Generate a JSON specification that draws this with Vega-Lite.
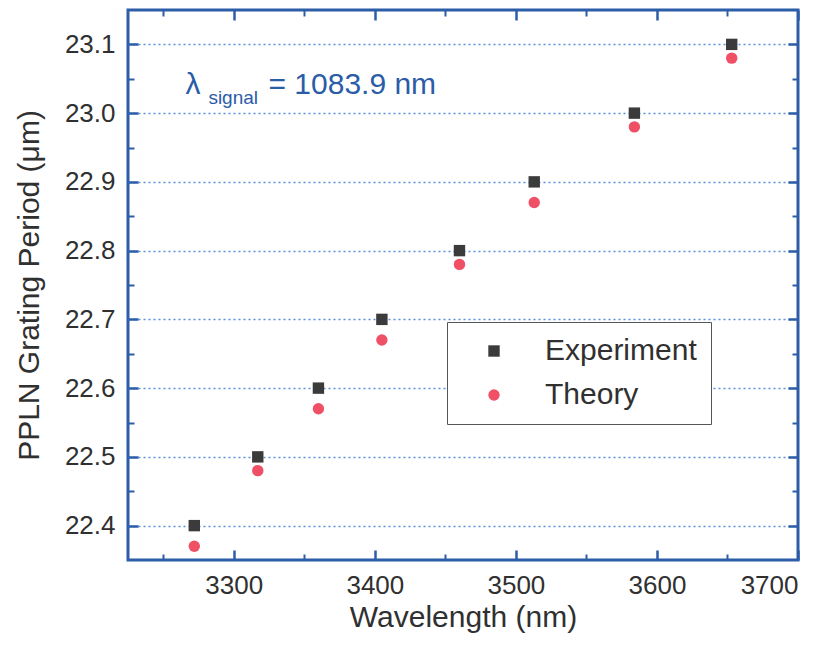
{
  "$schema": "https://vega.github.io/schema/vega-lite/v6.json",
  "width": 670,
  "height": 550,
  "autosize": {"type": "none"},
  "padding": {"left": 128, "top": 10, "right": 35, "bottom": 92},
  "background": "white",
  "config": {
    "view": {"stroke": "#2c5da8", "strokeWidth": 3},
    "font": "Liberation Sans",
    "axis": {
      "domain": false,
      "grid": false,
      "labelFont": "Liberation Sans",
      "titleFont": "Liberation Sans",
      "labelColor": "#303030",
      "titleColor": "#303030",
      "titleFontWeight": "normal",
      "tickColor": "#2c5da8",
      "labelFontSize": 26,
      "titleFontSize": 30
    }
  },
  "resolve": {"axis": {"x": "independent", "y": "independent"}},
  "layer": [
    {
      "data": {"values": [
        {"series": "Experiment", "wavelength": 3272, "period": 22.4},
        {"series": "Experiment", "wavelength": 3317, "period": 22.5},
        {"series": "Experiment", "wavelength": 3360, "period": 22.6},
        {"series": "Experiment", "wavelength": 3405, "period": 22.7},
        {"series": "Experiment", "wavelength": 3460, "period": 22.8},
        {"series": "Experiment", "wavelength": 3513, "period": 22.9},
        {"series": "Experiment", "wavelength": 3584, "period": 23.0},
        {"series": "Experiment", "wavelength": 3653, "period": 23.1},
        {"series": "Theory", "wavelength": 3272, "period": 22.37},
        {"series": "Theory", "wavelength": 3317, "period": 22.48},
        {"series": "Theory", "wavelength": 3360, "period": 22.57},
        {"series": "Theory", "wavelength": 3405, "period": 22.67},
        {"series": "Theory", "wavelength": 3460, "period": 22.78},
        {"series": "Theory", "wavelength": 3513, "period": 22.87},
        {"series": "Theory", "wavelength": 3584, "period": 22.98},
        {"series": "Theory", "wavelength": 3653, "period": 23.08}
      ]},
      "mark": {"type": "point", "filled": true, "opacity": 1, "size": 130, "strokeWidth": 0},
      "encoding": {
        "x": {
          "field": "wavelength", "type": "quantitative",
          "scale": {"domain": [3225, 3700], "nice": false, "zero": false},
          "axis": {"orient": "bottom", "values": [3300, 3400, 3500, 3600, 3700], "format": "d",
                   "tickSize": -10, "tickWidth": 2.5, "labelPadding": 22,
                   "title": "Wavelength (nm)", "titlePadding": 4}
        },
        "y": {
          "field": "period", "type": "quantitative",
          "scale": {"domain": [22.35, 23.15], "nice": false, "zero": false},
          "axis": {"orient": "left", "values": [22.4, 22.5, 22.6, 22.7, 22.8, 22.9, 23.0, 23.1], "format": ".1f",
                   "tickSize": -10, "tickWidth": 2.5, "labelPadding": 23,
                   "grid": true, "gridColor": "#5b8fdc", "gridDash": [2, 3], "gridWidth": 1.5,
                   "title": "PPLN Grating Period (μm)", "titlePadding": 20}
        },
        "color": {
          "field": "series", "type": "nominal",
          "scale": {"domain": ["Experiment", "Theory"], "range": ["#3b3b3b", "#ef5066"]},
          "legend": {"title": null, "orient": "none", "legendX": 319, "legendY": 312, "padding": 14,
                     "fillColor": "white", "strokeColor": "#555555",
                     "labelFontSize": 30, "labelLimit": 400, "labelColor": "#303030", "labelFont": "Liberation Sans",
                     "labelExpr": "datum.label + '\u00a0\u00a0'",
                     "symbolSize": 130, "symbolOffset": 18, "labelOffset": 36, "rowPadding": 14, "symbolStrokeWidth": 0,
                     "encode": {"legend": {"update": {"strokeWidth": {"value": 1.5}}}}}
        },
        "shape": {
          "field": "series", "type": "nominal",
          "scale": {"domain": ["Experiment", "Theory"], "range": ["square", "circle"]},
          "legend": {"title": null, "orient": "none", "legendX": 319, "legendY": 312, "padding": 14,
                     "fillColor": "white", "strokeColor": "#555555",
                     "labelFontSize": 30, "labelLimit": 400, "labelColor": "#303030", "labelFont": "Liberation Sans",
                     "labelExpr": "datum.label + '\u00a0\u00a0'",
                     "symbolSize": 130, "symbolOffset": 18, "labelOffset": 36, "rowPadding": 14, "symbolStrokeWidth": 0,
                     "encode": {"legend": {"update": {"strokeWidth": {"value": 1.5}}}}}
        }
      }
    },
    {
      "data": {"values": [{"wavelength": 3265.7, "period": 23.028, "label": "λ"}]},
      "mark": {"type": "text", "align": "left", "baseline": "alphabetic", "fontSize": 30, "color": "#2b5ca8", "font": "Liberation Sans"},
      "encoding": {
        "x": {"field": "wavelength", "type": "quantitative",
              "axis": {"orient": "bottom", "values": [3250, 3350, 3450, 3550, 3650], "tickSize": -6, "tickWidth": 2, "labels": false, "title": null}},
        "y": {"field": "period", "type": "quantitative",
              "axis": {"orient": "left", "values": [22.45, 22.55, 22.65, 22.75, 22.85, 22.95, 23.05], "tickSize": -6, "tickWidth": 2, "labels": false, "title": null}},
        "text": {"field": "label"}
      }
    },
    {
      "data": {"values": [{"wavelength": 3282, "period": 23.0135, "label": "signal"}]},
      "mark": {"type": "text", "align": "left", "baseline": "alphabetic", "fontSize": 19, "color": "#2b5ca8", "font": "Liberation Sans"},
      "encoding": {
        "x": {"field": "wavelength", "type": "quantitative",
              "axis": {"orient": "top", "values": [3300, 3400, 3500, 3600, 3700], "tickSize": -10, "tickWidth": 2.5, "labels": false, "title": null}},
        "y": {"field": "period", "type": "quantitative",
              "axis": {"orient": "right", "values": [22.4, 22.5, 22.6, 22.7, 22.8, 22.9, 23.0, 23.1], "tickSize": -10, "tickWidth": 2.5, "labels": false, "title": null}},
        "text": {"field": "label"}
      }
    },
    {
      "data": {"values": [{"wavelength": 3324.6, "period": 23.028, "label": "= 1083.9 nm"}]},
      "mark": {"type": "text", "align": "left", "baseline": "alphabetic", "fontSize": 30, "color": "#2b5ca8", "font": "Liberation Sans"},
      "encoding": {
        "x": {"field": "wavelength", "type": "quantitative",
              "axis": {"orient": "top", "values": [3250, 3350, 3450, 3550, 3650], "tickSize": -6, "tickWidth": 2, "labels": false, "title": null}},
        "y": {"field": "period", "type": "quantitative",
              "axis": {"orient": "right", "values": [22.45, 22.55, 22.65, 22.75, 22.85, 22.95, 23.05], "tickSize": -6, "tickWidth": 2, "labels": false, "title": null}},
        "text": {"field": "label"}
      }
    }
  ]
}
